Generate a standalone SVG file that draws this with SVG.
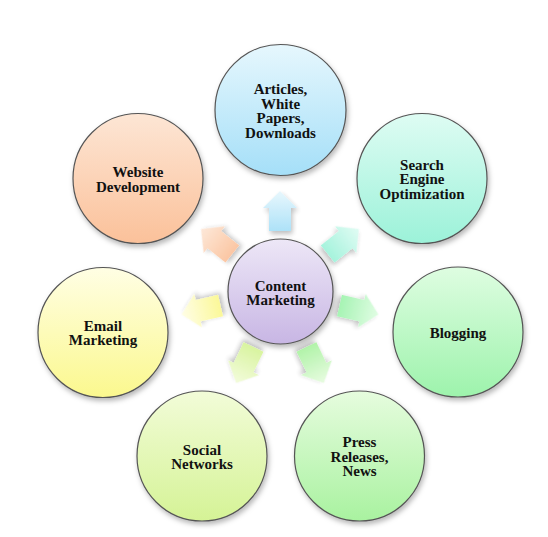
<svg xmlns="http://www.w3.org/2000/svg" width="548" height="537" viewBox="0 0 548 537">
<defs>
<filter id="sh" x="-20%" y="-20%" width="150%" height="150%">
<feDropShadow dx="1.5" dy="3" stdDeviation="2.5" flood-color="#000" flood-opacity="0.28"/>
</filter>
<linearGradient id="gC" x1="0" y1="0" x2="0" y2="1"><stop offset="0" stop-color="#ede7f7"/><stop offset="1" stop-color="#c8b6e4"/></linearGradient>
<linearGradient id="gA" x1="0" y1="0" x2="0" y2="1"><stop offset="0" stop-color="#e6f7fd"/><stop offset="1" stop-color="#a5dff8"/></linearGradient>
<linearGradient id="gS" x1="0" y1="0" x2="0" y2="1"><stop offset="0" stop-color="#defcf3"/><stop offset="1" stop-color="#9cf2d9"/></linearGradient>
<linearGradient id="gB" x1="0" y1="0" x2="0" y2="1"><stop offset="0" stop-color="#defde1"/><stop offset="1" stop-color="#9df3ac"/></linearGradient>
<linearGradient id="gP" x1="0" y1="0" x2="0" y2="1"><stop offset="0" stop-color="#e6fcde"/><stop offset="1" stop-color="#a9f2a0"/></linearGradient>
<linearGradient id="gN" x1="0" y1="0" x2="0" y2="1"><stop offset="0" stop-color="#f2fcd8"/><stop offset="1" stop-color="#d5f396"/></linearGradient>
<linearGradient id="gE" x1="0" y1="0" x2="0" y2="1"><stop offset="0" stop-color="#fffee4"/><stop offset="1" stop-color="#fbf88e"/></linearGradient>
<linearGradient id="gW" x1="0" y1="0" x2="0" y2="1"><stop offset="0" stop-color="#fde6d5"/><stop offset="1" stop-color="#fbc19a"/></linearGradient>
<path id="arr" d="M-11,-61 L-11,-84 L-17,-84 L0,-101 L17,-84 L11,-84 L11,-61 Z"/>
</defs>
<style>
.n{stroke:#555;stroke-width:1.2;filter:url(#sh)}
.t{font-family:"Liberation Serif","DejaVu Serif",serif;font-weight:bold;font-size:15px;fill:#111;text-anchor:middle}
.a{filter:url(#sh);opacity:0.9}
</style>
<rect width="548" height="537" fill="#fff"/>
<g id="connectors">
<use href="#arr" class="a" fill="url(#gA)" transform="translate(280,292) rotate(0)"/>
<use href="#arr" class="a" fill="url(#gS)" transform="translate(280,292) rotate(51.43)"/>
<use href="#arr" class="a" fill="url(#gB)" transform="translate(280,292) rotate(102.86)"/>
<use href="#arr" class="a" fill="url(#gP)" transform="translate(280,292) rotate(154.29)"/>
<use href="#arr" class="a" fill="url(#gN)" transform="translate(280,292) rotate(205.71)"/>
<use href="#arr" class="a" fill="url(#gE)" transform="translate(280,292) rotate(257.14)"/>
<use href="#arr" class="a" fill="url(#gW)" transform="translate(280,292) rotate(308.57)"/>
</g>
<g id="content-marketing">
<circle class="n" cx="280.5" cy="291.5" r="52.5" fill="url(#gC)" stroke="#5a4e6a"/>
<text class="t" x="280.5" y="290.5"><tspan x="280.5">Content</tspan><tspan x="280.5" dy="14.5">Marketing</tspan></text>
</g>
<g id="articles">
<circle class="n" cx="280.5" cy="110" r="65.5" fill="url(#gA)"/>
<text class="t" x="280.5" y="94"><tspan x="280.5">Articles,</tspan><tspan x="280.5" dy="14.5">White</tspan><tspan x="280.5" dy="14.5">Papers,</tspan><tspan x="280.5" dy="14.5">Downloads</tspan></text>
</g>
<g id="seo">
<circle class="n" cx="422" cy="178.5" r="65" fill="url(#gS)"/>
<text class="t" x="422" y="169.5"><tspan x="422">Search</tspan><tspan x="422" dy="14.5">Engine</tspan><tspan x="422" dy="14.5">Optimization</tspan></text>
</g>
<g id="blogging">
<circle class="n" cx="458" cy="332" r="65" fill="url(#gB)"/>
<text class="t" x="458" y="337.5">Blogging</text>
</g>
<g id="press">
<circle class="n" cx="359.5" cy="456" r="65" fill="url(#gP)"/>
<text class="t" x="359.5" y="447"><tspan x="359.5">Press</tspan><tspan x="359.5" dy="14.5">Releases,</tspan><tspan x="359.5" dy="14.5">News</tspan></text>
</g>
<g id="social">
<circle class="n" cx="202" cy="456" r="65" fill="url(#gN)"/>
<text class="t" x="202" y="454.5"><tspan x="202">Social</tspan><tspan x="202" dy="14.5">Networks</tspan></text>
</g>
<g id="email">
<circle class="n" cx="103" cy="332.5" r="65" fill="url(#gE)"/>
<text class="t" x="103" y="330.5"><tspan x="103">Email</tspan><tspan x="103" dy="14.5">Marketing</tspan></text>
</g>
<g id="website">
<circle class="n" cx="138" cy="178.5" r="65" fill="url(#gW)"/>
<text class="t" x="138" y="177"><tspan x="138">Website</tspan><tspan x="138" dy="14.5">Development</tspan></text>
</g>
</svg>
